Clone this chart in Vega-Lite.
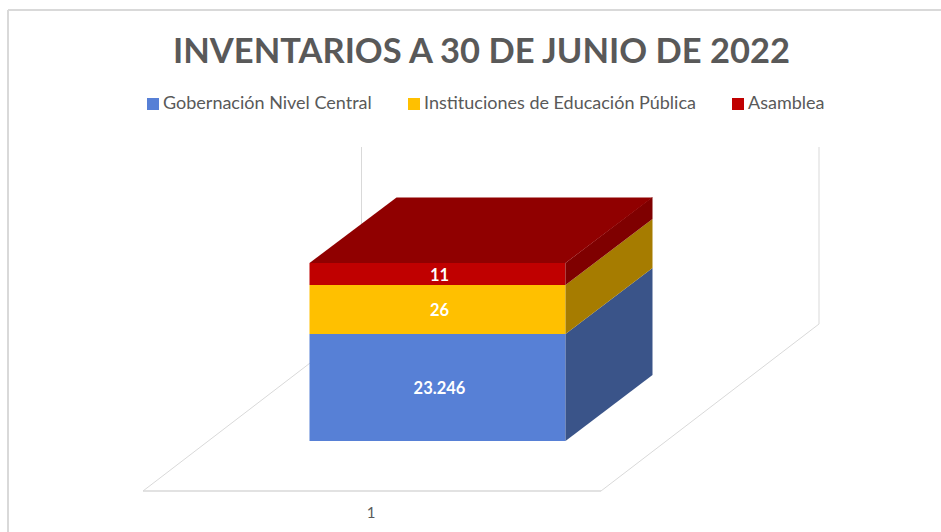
{"$schema":"https://vega.github.io/schema/vega-lite/v6.json","width":941,"height":532,"padding":0,"autosize":{"type":"none"},"background":"white","config":{"view":{"stroke":null},"axis":{"disable":true},"font":"Lato"},
"title":{"text":"INVENTARIOS  A 30 DE JUNIO DE 2022","anchor":"middle","frame":"group","font":"Lato","fontWeight":"bold","fontSize":34.5,"color":"#595959","dy":74,"dx":11},
"data":{"values":[{"serie":"Gobernación Nivel Central","valor":23246,"etiqueta":"23.246","altura":107,"orden":1},{"serie":"Instituciones de Educación Pública","valor":26,"etiqueta":"26","altura":49,"orden":2},{"serie":"Asamblea","valor":11,"etiqueta":"11","altura":22,"orden":3}]},
"transform":[{"stack":"altura","groupby":[],"sort":[{"field":"orden","order":"ascending"}],"as":["base","tope"]},{"calculate":"50+datum.base","as":"y0"},{"calculate":"50+datum.tope","as":"y1"},{"calculate":"(datum.y0+datum.y1)/2","as":"ymid"}],
"resolve":{"scale":{"color":"independent"}},
"layer":[
{"data":{"values":[{"k":1}]},"mark":{"type":"rule","color":"#D9D9D9","strokeWidth":2},"encoding":{"x":{"datum":8,"type":"quantitative","scale":{"domain":[0,941],"nice":false,"zero":false}},"x2":{"datum":941},"y":{"datum":481,"type":"quantitative","scale":{"domain":[-41,491],"nice":false,"zero":false}},"y2":{"datum":481}}},
{"data":{"values":[{"k":1}]},"mark":{"type":"rule","color":"#D9D9D9","strokeWidth":2},"encoding":{"x":{"datum":8,"type":"quantitative"},"x2":{"datum":8},"y":{"datum":481,"type":"quantitative"},"y2":{"datum":-41}}},
{"data":{"values":[{"k":1}]},"mark":{"type":"rule","color":"#D9D9D9","strokeWidth":1},"encoding":{"x":{"datum":361.5,"type":"quantitative"},"x2":{"datum":361.5},"y":{"datum":344,"type":"quantitative"},"y2":{"datum":167}}},
{"data":{"values":[{"k":1}]},"mark":{"type":"rule","color":"#D9D9D9","strokeWidth":1},"encoding":{"x":{"datum":819,"type":"quantitative"},"x2":{"datum":819},"y":{"datum":344,"type":"quantitative"},"y2":{"datum":167}}},
{"data":{"values":[{"k":1}]},"mark":{"type":"rule","color":"#D9D9D9","strokeWidth":1.5},"encoding":{"x":{"datum":143,"type":"quantitative"},"x2":{"datum":601},"y":{"datum":0,"type":"quantitative"},"y2":{"datum":0}}},
{"data":{"values":[{"k":1}]},"mark":{"type":"rule","color":"#D9D9D9","strokeWidth":1},"encoding":{"x":{"datum":143,"type":"quantitative"},"x2":{"datum":361},"y":{"datum":0,"type":"quantitative"},"y2":{"datum":167}}},
{"data":{"values":[{"k":1}]},"mark":{"type":"rule","color":"#D9D9D9","strokeWidth":1},"encoding":{"x":{"datum":601,"type":"quantitative"},"x2":{"datum":819},"y":{"datum":0,"type":"quantitative"},"y2":{"datum":167}}},
{"mark":{"type":"rect"},"encoding":{"x":{"datum":309.5,"type":"quantitative"},"x2":{"datum":565.5},"y":{"field":"y0","type":"quantitative"},"y2":{"field":"y1"},"color":{"field":"serie","type":"nominal","scale":{"domain":["Gobernación Nivel Central","Instituciones de Educación Pública","Asamblea"],"range":["#5780D6","#FFC000","#C00000"]},"legend":{"title":null,"orient":"none","legendX":144,"legendY":95,"direction":"horizontal","columns":3,"columnPadding":33,"symbolType":"square","symbolSize":144,"symbolStrokeWidth":0,"labelFont":"Lato","labelFontSize":18,"labelColor":"#595959","labelOffset":1,"labelLimit":400,"padding":0}}}},
{"transform":[{"calculate":"0","as":"d0"},{"calculate":"1","as":"d1"},{"fold":["d0","d1"],"as":["k","d"]},{"calculate":"565.5+87*datum.d","as":"sx"},{"calculate":"datum.y0+66*datum.d","as":"sy0"},{"calculate":"datum.y1+66*datum.d","as":"sy1"}],"mark":{"type":"area"},"encoding":{"x":{"field":"sx","type":"quantitative"},"y":{"field":"sy0","type":"quantitative"},"y2":{"field":"sy1"},"color":{"field":"serie","type":"nominal","legend":null,"scale":{"domain":["Gobernación Nivel Central","Instituciones de Educación Pública","Asamblea"],"range":["#3A5489","#A67C00","#7F0000"]}}}},
{"transform":[{"filter":"datum.orden==3"},{"calculate":"0","as":"d0"},{"calculate":"1","as":"d1"},{"fold":["d0","d1"],"as":["k","d"]},{"calculate":"309.5+87*datum.d","as":"tx0"},{"calculate":"565.5+87*datum.d","as":"tx1"},{"calculate":"datum.y1+65.5*datum.d","as":"ty"}],"mark":{"type":"area","orient":"horizontal","color":"#900000"},"encoding":{"y":{"field":"ty","type":"quantitative"},"x":{"field":"tx0","type":"quantitative"},"x2":{"field":"tx1"}}},
{"mark":{"type":"text","color":"white","font":"Lato","fontWeight":"bold","fontSize":16.5,"align":"center","baseline":"middle","dy":1.5},"encoding":{"x":{"datum":439.5,"type":"quantitative"},"y":{"field":"ymid","type":"quantitative"},"text":{"field":"etiqueta","type":"nominal"}}},
{"data":{"values":[{"categoria":"1"}]},"mark":{"type":"text","color":"#595959","font":"Lato","fontSize":15,"align":"center","baseline":"middle"},"encoding":{"x":{"datum":371,"type":"quantitative"},"y":{"datum":-22,"type":"quantitative"},"text":{"field":"categoria","type":"nominal"}}}
]}
